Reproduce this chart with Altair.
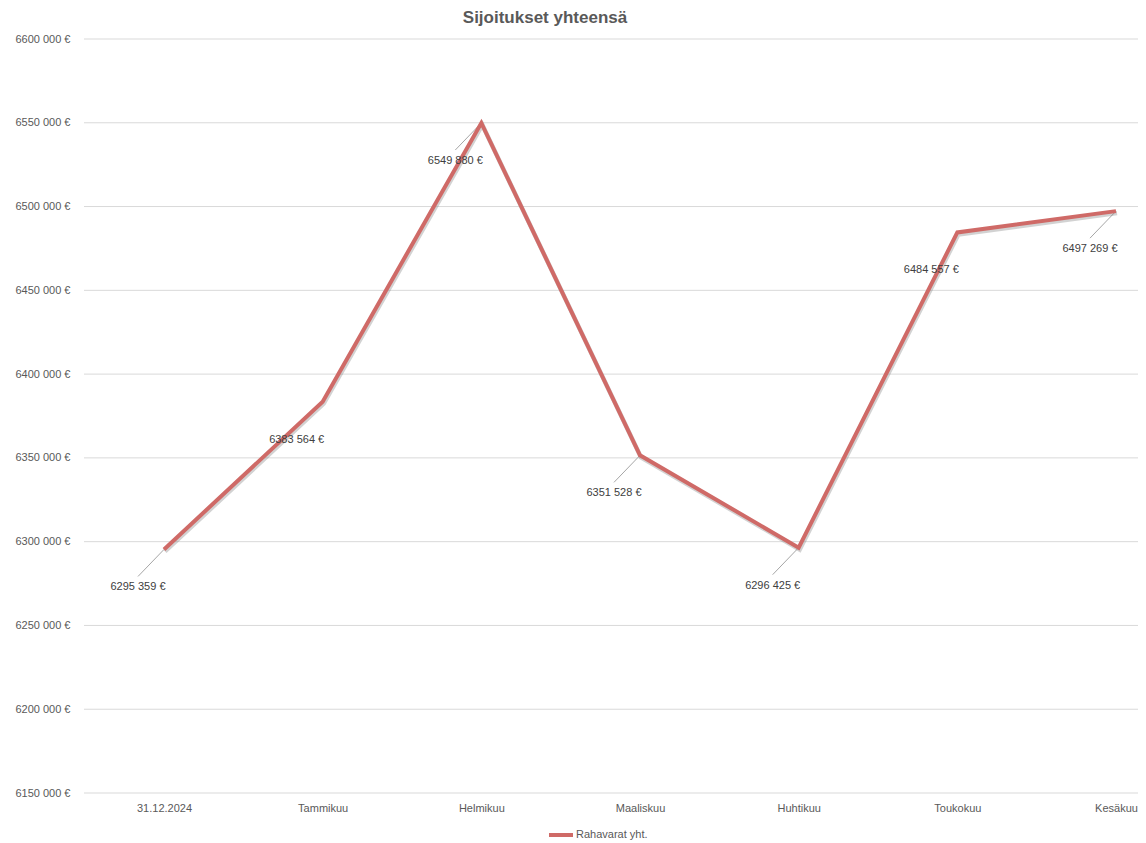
import altair as alt
import pandas as pd

categories = ["31.12.2024", "Tammikuu", "Helmikuu", "Maaliskuu", "Huhtikuu", "Toukokuu", "Kesäkuu"]
values = [6295359, 6383564, 6549880, 6351528, 6296425, 6484557, 6497269]
series_name = "Rahavarat yht."
y_ticks = [6150000, 6200000, 6250000, 6300000, 6350000, 6400000, 6450000, 6500000, 6550000, 6600000]

df = pd.DataFrame({"cat": categories, "value": values, "series": [series_name] * len(values)})
grid_df = pd.DataFrame({"value": y_ticks})

FONT = "Liberation Sans"
GREY = "#595959"
LINE = "#cf6a67"
W, H = 1054, 754

fmt = "format(floor(datum.value/1000),'d') + ' ' + format(datum.value % 1000,'03d') + ' €'"

x = alt.X("cat:N", sort=categories,
          scale=alt.Scale(type="point", range=[80, 1032], padding=0),
          axis=alt.Axis(title=None, labelAngle=0, ticks=False, domain=False, grid=False,
                        labelPadding=9, labelFont=FONT, labelFontSize=11, labelColor=GREY))
yscale = alt.Scale(domain=[6150000, 6600000], nice=False, zero=False)
y = alt.Y("value:Q", scale=yscale,
          axis=alt.Axis(title=None, values=y_ticks, ticks=False, domain=False, grid=False,
                        labelExpr=fmt, labelPadding=14, labelFont=FONT,
                        labelFontSize=11, labelColor=GREY))

grid = alt.Chart(grid_df).mark_rule(color="#d9d9d9", strokeWidth=1).encode(
    y=y, x=alt.value(0), x2=alt.value(W)
)

base = alt.Chart(df)

leaders = base.transform_filter(
    "datum.cat != 'Tammikuu' && datum.cat != 'Toukokuu'"
).mark_rule(color="#a6a6a6", strokeWidth=1, x2Offset=-26, y2Offset=27).encode(
    x=x, y=y, x2=alt.X2("cat:N"), y2=alt.Y2("value:Q")
)

shadow = base.mark_line(color="#7f7f7f", opacity=0.35, strokeWidth=4.5,
                        xOffset=1, yOffset=2, strokeJoin="miter").encode(x=x, y=y)

line = base.mark_line(strokeWidth=4, strokeJoin="miter").encode(
    x=x, y=y,
    color=alt.Color("series:N", scale=alt.Scale(range=[LINE]),
                    legend=alt.Legend(title=None, orient="none", legendX=463, legendY=782,
                                      symbolType="stroke", symbolSize=576,
                                      symbolStrokeWidth=4, labelOffset=1,
                                      labelFont=FONT, labelFontSize=11, labelColor=GREY))
)

labels = base.transform_calculate(
    lab="format(floor(datum.value/1000),'d') + ' ' + format(datum.value % 1000,'03d') + ' €'"
).mark_text(dx=-26, dy=38, font=FONT, fontSize=11, color="#404040").encode(
    x=x, y=y, text="lab:N"
)

chart = alt.layer(grid, leaders, shadow, line, labels).properties(
    width=W, height=H,
    title=alt.TitleParams("Sijoitukset yhteensä", font=FONT, fontSize=17, fontWeight="bold",
                          color=GREY, anchor="middle", dx=-66, offset=6),
    autosize=alt.AutoSizeParams(type="none"),
    padding={"left": 76, "top": 31, "right": 0, "bottom": 48},
).configure(background="white").configure_view(stroke=None, strokeWidth=0)

chart.save("out.html", embed_options={"renderer": "svg", "actions": False})
